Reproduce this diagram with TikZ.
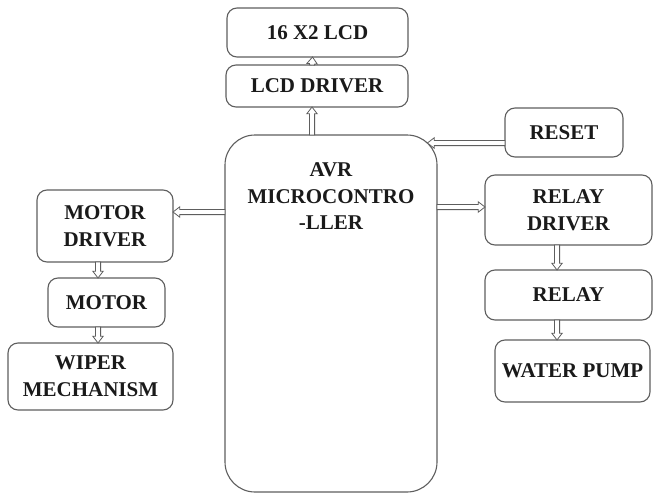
\documentclass[tikz,border=0pt]{standalone}
\usepackage{fontspec}
\setmainfont{Liberation Serif}
\usetikzlibrary{shapes.arrows,calc}
\definecolor{edge}{HTML}{5E5E5E}
\definecolor{ink}{HTML}{1A1A1A}
\tikzset{
  blk/.style={draw=edge, text=ink, line width=1.1pt, rounded corners=10pt, align=center,
    inner sep=0pt, outer sep=0pt, font=\fontsize{21}{27}\selectfont\bfseries},
  hollowarrow/.style={single arrow, draw=edge, fill=white, line width=0.8pt,
    inner xsep=0pt, inner ysep=2.2pt, outer sep=0pt, minimum width=10pt,
    single arrow head extend=2.6pt, single arrow tip angle=75},
  harrow/.style={to path={
    let \p1=(\tikztostart), \p2=(\tikztotarget),
        \n1={atan2(\y2-\y1,\x2-\x1)}, \n2={veclen(\x2-\x1,\y2-\y1)}
    in node[hollowarrow, minimum height=\n2, rotate=\n1, anchor=tail] at (\p1) {}}}
}
\begin{document}
\begin{tikzpicture}[x=1pt,y=-1pt]
\useasboundingbox[fill=white] (0,0) rectangle (658,495);
\node[blk, minimum width=181pt, minimum height=49pt] (lcd) at (317.5,32.5) {16 X2 LCD};
\node[blk, minimum width=182pt, minimum height=42pt] (lcddrv) at (317,86) {LCD DRIVER};
\node[blk, rounded corners=30pt, minimum width=212pt, minimum height=357pt,
  label={[blk, draw=none, anchor=north, yshift=-28pt, font=\fontsize{21}{26.5}\selectfont\bfseries]north:AVR\\MICROCONTRO\\-LLER}] (mcu) at (331,313.5) {};
\node[blk, minimum width=136pt, minimum height=72pt] (motordrv) at (105,226) {MOTOR\\DRIVER};
\node[blk, minimum width=117pt, minimum height=49pt] (motor) at (106.5,302.5) {MOTOR};
\node[blk, minimum width=165pt, minimum height=67pt] (wiper) at (90.5,376.5) {WIPER\\MECHANISM};
\node[blk, minimum width=118pt, minimum height=49pt] (reset) at (564,132.5) {RESET};
\node[blk, minimum width=167pt, minimum height=70pt] (relaydrv) at (568.5,210) {RELAY\\DRIVER};
\node[blk, minimum width=167pt, minimum height=50pt] (relay) at (568.5,295) {RELAY};
\node[blk, minimum width=155pt, minimum height=62pt] (pump) at (572.5,371) {WATER PUMP};
% connectors
\path ([xshift=-5pt]lcddrv.south |- mcu.north) to[harrow] ([xshift=-5pt]lcddrv.south);
\path ([xshift=-5pt]lcddrv.north) to[harrow] ([xshift=-5pt]lcd.south);
\path ([yshift=-10.5pt]reset.west) to[harrow] ([xshift=-9.6pt,yshift=-8pt]mcu.north east);
\path ($(mcu.west |- motordrv.east)+(0,-14)$) to[harrow] ([yshift=14pt]motordrv.east);
\path ($(mcu.east |- relaydrv.west)+(0,-3)$) to[harrow] ([yshift=3pt]relaydrv.west);
\path ([xshift=-7pt]motordrv.south) to[harrow] ([xshift=-7pt]motordrv.south |- motor.north);
\path ([xshift=-8.5pt]motor.south) to[harrow] ([xshift=-8.5pt]motor.south |- wiper.north);
\path ([xshift=-11.5pt]relaydrv.south) to[harrow] ([xshift=-11.5pt]relaydrv.south |- relay.north);
\path ([xshift=-11.5pt]relay.south) to[harrow] ([xshift=-11.5pt]relay.south |- pump.north);
\end{tikzpicture}
\end{document}
